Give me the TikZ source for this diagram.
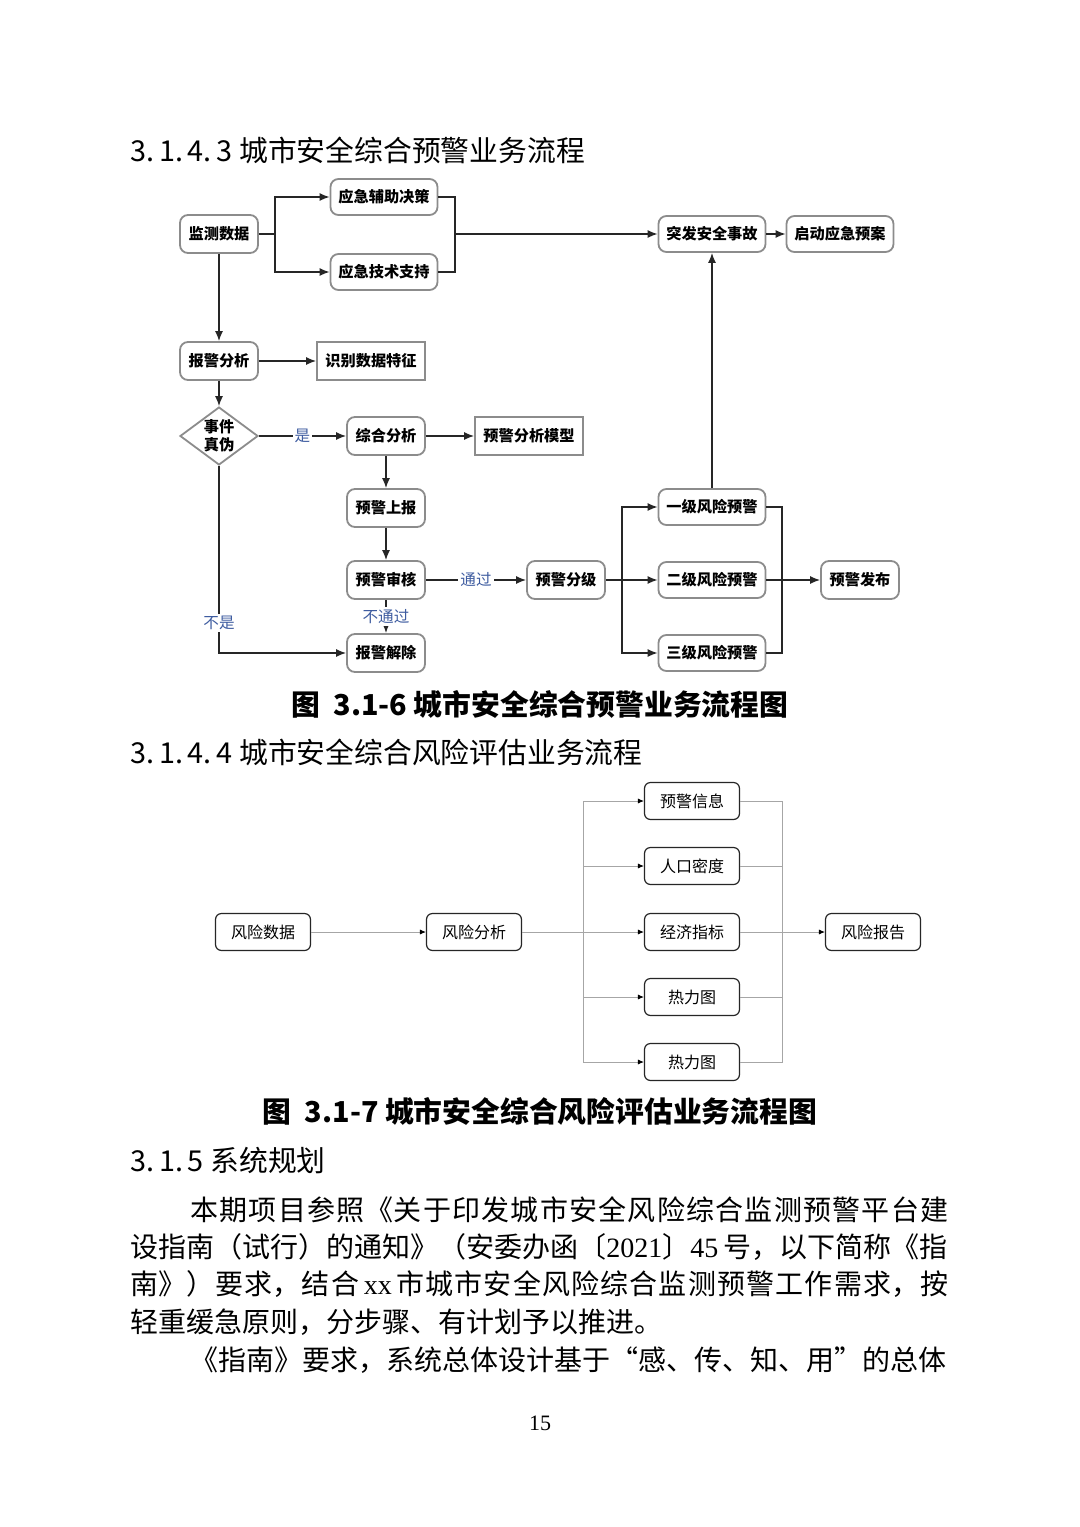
\documentclass[tikz,border=0pt]{standalone}
\usepackage{fontspec}
\setmainfont{Noto Sans CJK SC}
\newfontfamily\numfont{Liberation Serif}
\usetikzlibrary{shapes.geometric,arrows.meta}
\XeTeXlinebreaklocale "zh"
\XeTeXlinebreakskip=0pt plus 4pt minus 0.3pt
\definecolor{lblblue}{RGB}{62,92,160}
\newcommand{\fullline}[1]{\parbox{409pt}{\parfillskip=0pt\noindent #1\par}}

\begin{document}
\begin{tikzpicture}[x=0.5pt, y=-0.5pt,
  box/.style={draw=black!45, line width=0.9pt, rounded corners=4pt, fill=white,
    minimum width=39pt, minimum height=19pt, inner sep=1pt,
    font=\fontsize{7.6}{9}\selectfont\bfseries},
  widebox/.style={box, minimum width=53.5pt, minimum height=18pt},
  sqbox/.style={box, sharp corners, minimum width=54pt},
  decide/.style={box, sharp corners, diamond, aspect=1.2, inner sep=0pt, align=center,
    font=\fontsize{7.6}{9}\selectfont\bfseries},
  line/.style={line width=0.7pt, black!85},
  flow/.style={line, -{Latex[length=5pt,width=4pt]}},
  lbl/.style={fill=white, inner sep=1pt, text=lblblue,
    font=\fontsize{7.8}{8}\selectfont},
  rbox/.style={draw=black!85, line width=0.6pt, rounded corners=3pt,
    minimum width=47.5pt, minimum height=18.5pt, font=\fontsize{8}{9}\selectfont},
  thin/.style={draw=black!35, line width=0.45pt},
  thinflow/.style={thin, -{Latex[length=3pt,width=2.6pt,color=black]}},
  head/.style={anchor=west, inner sep=0pt, font=\fontsize{14.4}{16}\selectfont},
  figcap/.style={inner sep=0pt, font=\fontsize{14.4}{16}\selectfont\bfseries},
  body/.style={anchor=west, inner sep=0pt, font=\fontsize{14}{16}\selectfont}]
\useasboundingbox[fill=white] (0,0) rectangle (1080,1527);

% headings
\node[head] (h1) at (130,150) {3.\,1.\,4.\,3 城市安全综合预警业务流程};
\node[head] (h2) at (130,752) {3.\,1.\,4.\,4 城市安全综合风险评估业务流程};
\node[head] (h3) at (130,1160) {3.\,1.\,5 系统规划};

% warning flow
\draw
(219,234) node[box](jc){监测数据}
(384,197) node[widebox](fz){应急辅助决策}
(384,272) node[widebox](js){应急技术支持}
(712,234) node[widebox](tf){突发安全事故}
(840,234) node[widebox](qd){启动应急预案}
(219,361) node[box](bf){报警分析}
(371,361) node[sqbox](sb){识别数据特征}
(219,436) node[decide](zw){事件\\真伪}
(386,436) node[box](zh){综合分析}
(529,436) node[sqbox](mx){预警分析模型}
(386,508) node[box](sbo){预警上报}
(386,580) node[box](sh){预警审核}
(386,653) node[box](jx){报警解除}
(566,580) node[box](fj){预警分级}
(712,507) node[widebox](y1){一级风险预警}
(712,580) node[widebox](y2){二级风险预警}
(712,653) node[widebox](y3){三级风险预警}
(860,580) node[box](fb){预警发布};

\coordinate (s1) at (275,234);
\coordinate (m1) at (455,234);
\coordinate (s2) at (622,580);
\coordinate (m2) at (782,580);

\draw[line] (jc) -- (s1);
\draw[flow] (s1) |- (fz);
\draw[flow] (s1) |- (js);
\draw[line] (fz) -| (m1);
\draw[line] (js) -| (m1);
\draw[flow] (m1) -- (tf);
\draw[flow] (tf) -- (qd);
\draw[flow] (jc) -- (bf);
\draw[flow] (bf) -- (sb);
\draw[flow] (bf) -- (zw);
\draw[flow] (zw) -- node[lbl] {是} (zh);
\draw[flow] (zh) -- (mx);
\draw[flow] (zh) -- (sbo);
\draw[flow] (sbo) -- (sh);
\draw[flow] (sh) -- node[lbl] {通过} (fj);
\draw[flow] (sh) -- node[lbl] {不通过} (jx);
\draw[flow] (zw) |- node[lbl, pos=0.42] {不是} (jx);
\draw[line] (fj) -- (s2);
\draw[flow] (s2) |- (y1);
\draw[flow] (s2) -- (y2);
\draw[flow] (s2) |- (y3);
\draw[line] (y1) -| (m2);
\draw[line] (y2) -- (m2);
\draw[line] (y3) -| (m2);
\draw[flow] (m2) -- (fb);
\draw[flow] (y1) -- (tf);

\node[figcap] (c1) at (540,704) {图\ \ 3.1-6 城市安全综合预警业务流程图};

% risk flow
\draw
(263,932) node[rbox](fd){风险数据}
(474,932) node[rbox](fx){风险分析}
(692,801) node[rbox](r1){预警信息}
(692,866) node[rbox](r2){人口密度}
(692,932) node[rbox](r3){经济指标}
(692,997) node[rbox](r4){热力图}
(692,1062) node[rbox](r5){热力图}
(873,932) node[rbox](bg){风险报告};

\coordinate (s3) at (583,932);
\coordinate (m3) at (782,932);

\draw[thinflow] (fd) -- (fx);
\draw[thin] (fx) -- (s3);
\foreach \n in {r1,r2,r3,r4,r5} {
  \draw[thinflow] (s3) |- (\n);
  \draw[thin] (\n) -| (m3);
}
\draw[thinflow] (m3) -- (bg);

\node[figcap] (c2) at (540,1111) {图\ \ 3.1-7 城市安全综合风险评估业务流程图};

% body text
\node[body] (p1) at (130,1210) {\fullline{\hspace*{30pt}本期项目参照《关于印发城市安全风险综合监测预警平台建}};
\node[body] (p2) at (130,1247) {\hbox to 409pt{设指南（试行）的通知》（安委办函〔{\numfont 2021}〕{\numfont 45}\,号，以下简称《指}};
\node[body] (p3) at (130,1284) {\fullline{南》）要求，结合\,{\numfont xx}\,市城市安全风险综合监测预警工作需求，按}};
\node[body] (p4) at (130,1322) {轻重缓急原则，分步骤、有计划予以推进。};
\node[body] (p5) at (130,1360) {\hbox to 409pt{\hspace*{30pt}《指南》要求，系统总体设计基于“感、传、知、用”的总体}};

\node[inner sep=0pt, font=\numfont\fontsize{11}{12}\selectfont] (pg) at (540,1423) {15};
\end{tikzpicture}
\end{document}
